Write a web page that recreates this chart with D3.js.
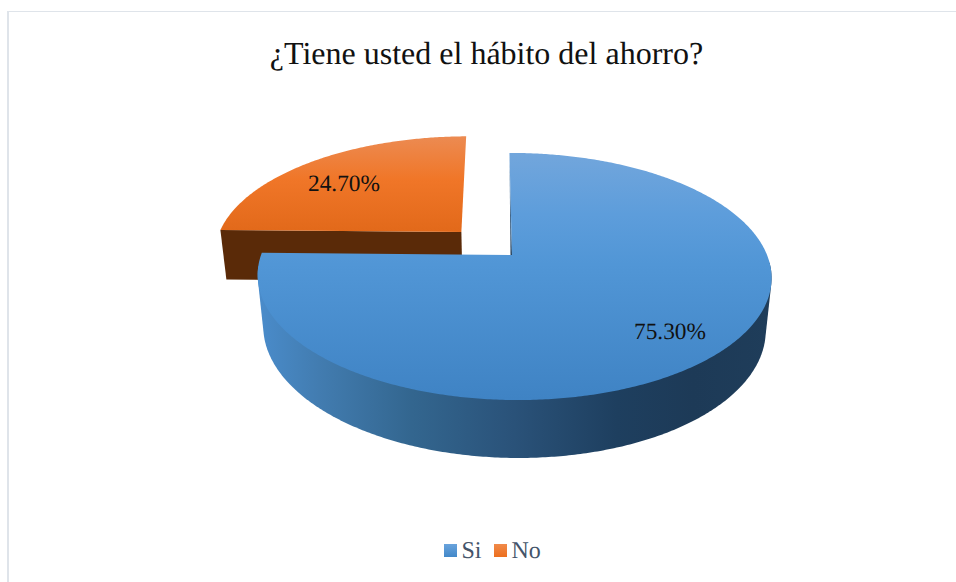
<!DOCTYPE html>
<html lang="es">
<head>
<meta charset="utf-8">
<script src="https://cdnjs.cloudflare.com/ajax/libs/d3/7.9.0/d3.min.js"></script>
<style>
  html, body { margin: 0; padding: 0; background: #fff; }
  svg { display: block; }
  text { font-family: "Liberation Serif", "Times New Roman", serif; text-rendering: geometricPrecision; }
</style>
</head>
<body>
<svg id="chart" width="956" height="582"></svg>
<script>
const categories = ["Si", "No"];
const shares = [75.3, 24.7];
const shareLabels = ["75.30%", "24.70%"];
const titleText = "¿Tiene usted el hábito del ahorro?";

const svg = d3.select("#chart");
const W = 956, H = 582;

// Perspective camera for the tilted disc: u runs right, v runs away from the viewer, z runs down.
const cam = { x0: 512, y0: 255, rx: 253, ry: 119.8, depth: 52.3, kv: 0.174, ku: -0.008, kz: 0.022, shear: -3 };
function project(u, v, z) {
  const w = 1 + cam.kv * v + cam.ku * u + cam.kz * z;
  return [
    cam.x0 + (cam.rx * u + cam.shear * v) / w,
    cam.y0 + (-cam.ry * v + cam.depth * z) / w
  ];
}

const pie = d3.pie().sort(null).value(d => d)(shares);
const explode = [[0, 0], [-0.205, 0.199]];
const line = d3.line();

function rim(arc, off, z, from, to) {
  const a0 = from === undefined ? arc.startAngle : from;
  const a1 = to === undefined ? arc.endAngle : to;
  const n = Math.max(2, Math.ceil(Math.abs(a1 - a0) / 0.01));
  return d3.range(n + 1).map(i => {
    const a = a0 + (a1 - a0) * i / n;
    return project(off[0] + Math.sin(a), off[1] + Math.cos(a), z);
  });
}
const apex = (off, z) => project(off[0], off[1], z);

// Gradients
const defs = svg.append("defs");
function grad(id, x1, y1, x2, y2, stops) {
  const g = defs.append("linearGradient").attr("id", id)
    .attr("gradientUnits", "userSpaceOnUse")
    .attr("x1", x1).attr("y1", y1).attr("x2", x2).attr("y2", y2);
  stops.forEach(s => g.append("stop").attr("offset", s[0]).attr("stop-color", s[1]));
}
grad("blueTop", 0, 153, 0, 400, [[0, "#72a6dc"], [0.25, "#5d9ddb"], [0.45, "#5196d6"], [1, "#3f83c4"]]);
grad("blueWall", 258, 0, 770, 0, [[0, "#4a8ccb"], [0.12, "#427cb0"], [0.3, "#33668f"], [0.5, "#2a5279"], [0.7, "#1e3f5f"], [0.85, "#1d3a57"], [1, "#1f3d5a"]]);
grad("orangeTop", 0, 136, 0, 232, [[0, "#ec8b52"], [0.45, "#f07628"], [1, "#e2691a"]]);
grad("blueEdge", 0, 153, 0, 255, [[0, "#5a8cbc"], [1, "#1f3d5a"]]);
grad("swatchBlue", 0, 0, 0, 13, [[0, "#69a3dc"], [1, "#4288c9"]]);
grad("swatchOrange", 0, 0, 0, 13, [[0, "#f08a4a"], [1, "#ed6f1e"]]);

// Outer frame: only the top and left strokes fall inside the view.
svg.append("line").attr("x1", 8).attr("x2", W).attr("y1", 11.5).attr("y2", 11.5)
  .attr("stroke", "#dfe4ea").attr("stroke-width", 1.2);
svg.append("line").attr("x1", 8).attr("x2", 8).attr("y1", 11).attr("y2", H)
  .attr("stroke", "#dfe4ea").attr("stroke-width", 2);

svg.append("text").attr("x", 486.5).attr("y", 64).attr("text-anchor", "middle")
  .attr("font-size", 32).attr("fill", "#111").text(titleText);

// "No" slice, pulled out behind the main slice
const noArc = pie[1], noOff = explode[1];
const noLeft = project(noOff[0] + Math.sin(noArc.startAngle), noOff[1] + Math.cos(noArc.startAngle), 0);
const noLeftLow = project(noOff[0] + Math.sin(noArc.startAngle), noOff[1] + Math.cos(noArc.startAngle), 1);
const noRim = rim(noArc, noOff, 0);
svg.append("path").attr("fill", "#5a2a08")
  .attr("d", line([noLeft, apex(noOff, 0), apex(noOff, 1), noLeftLow]) + "Z");
svg.append("path").attr("fill", "url(#orangeTop)")
  .attr("d", line([apex(noOff, 0), ...noRim]) + "Z");

// "Si" slice: sliver of the back radial wall, curved wall, then the top face
const siArc = pie[0], siOff = explode[0];
const siApex = apex(siOff, 0);
svg.append("path").attr("fill", "url(#blueEdge)")
  .attr("d", line([project(Math.sin(siArc.startAngle), Math.cos(siArc.startAngle), 0),
                   siApex, [siApex[0] - 1.5, siApex[1]]]) + "Z");

// The curved wall is the hull of the front arcs of the top and bottom rims,
// which joins the two silhouettes with straight tangents.
const wallStart = 0.52 * Math.PI, wallEnd = 1.47 * Math.PI;
const wallHull = d3.polygonHull([
  ...rim(siArc, siOff, 0, wallStart, wallEnd),
  ...rim(siArc, siOff, 1, wallStart, wallEnd)
]);
svg.append("path").attr("fill", "url(#blueWall)").attr("d", line(wallHull) + "Z");
svg.append("path").attr("fill", "url(#blueTop)")
  .attr("d", line([siApex, ...rim(siArc, siOff, 0)]) + "Z");

// Value labels
const labelPos = [[670, 339], [344, 191]];
svg.selectAll("text.value").data(shareLabels).join("text")
  .attr("class", "value")
  .attr("x", (d, i) => labelPos[i][0]).attr("y", (d, i) => labelPos[i][1])
  .attr("text-anchor", "middle").attr("font-size", 23.4).attr("fill", "#111")
  .text(d => d);

// Legend
const legendFill = ["url(#swatchBlue)", "url(#swatchOrange)"];
const legendX = [444, 494];
const legend = svg.selectAll("g.legend").data(categories).join("g")
  .attr("class", "legend")
  .attr("transform", (d, i) => `translate(${legendX[i]},544)`);
legend.append("rect").attr("width", 13).attr("height", 13).attr("fill", (d, i) => legendFill[i]);
legend.append("text").attr("x", 17.5).attr("y", 14).attr("font-size", 24)
  .attr("fill", "#44546a").text(d => d);
</script>
</body>
</html>
